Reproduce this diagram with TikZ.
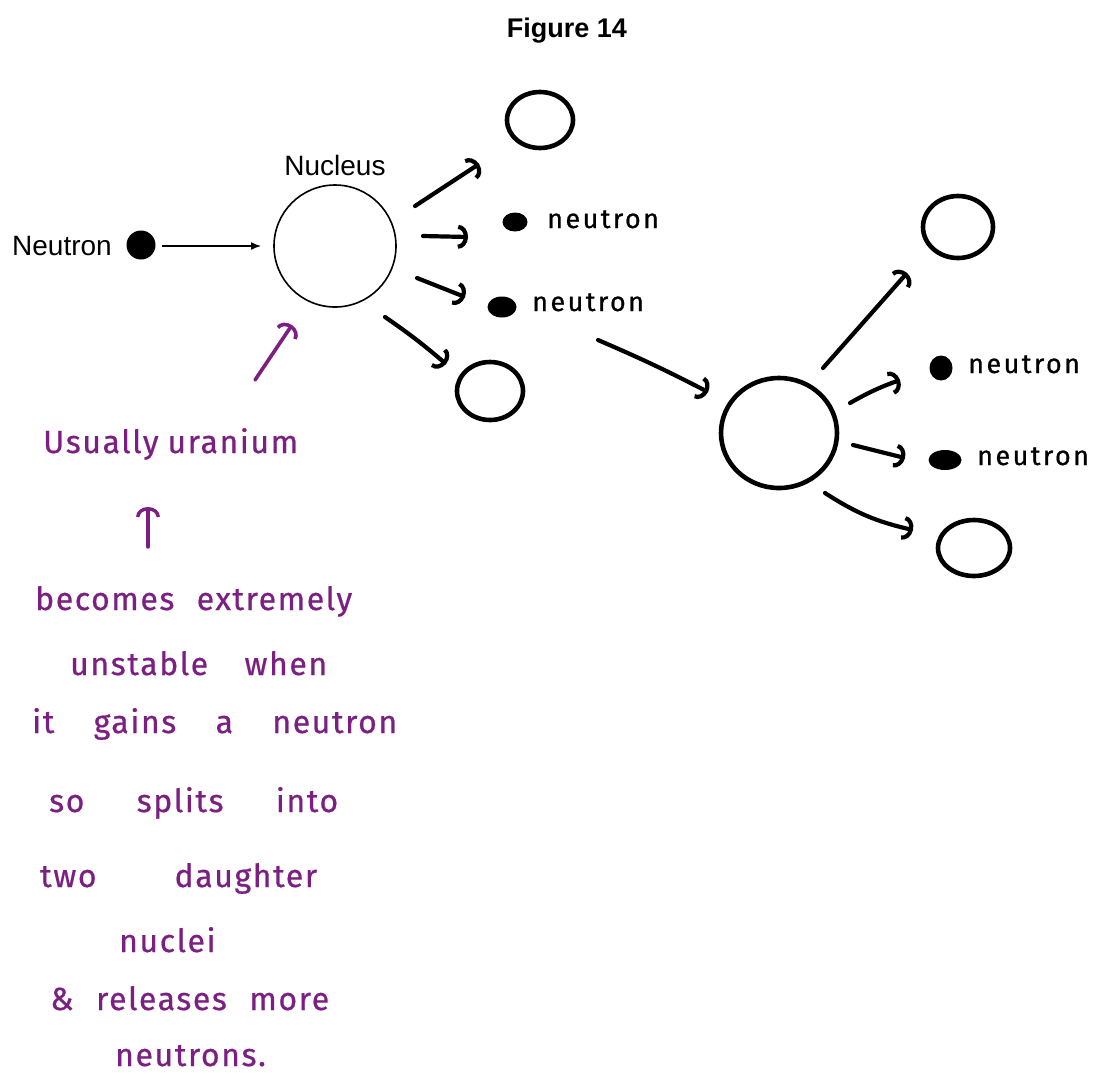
\documentclass[tikz,border=0pt]{standalone}
\usepackage{fontspec}
\setmainfont{Liberation Sans}
\newfontfamily\hand[LetterSpace=5,FakeBold=0.6]{Fira Sans}
\newfontfamily\handb[LetterSpace=9,FakeBold=0.6]{Fira Sans}
\usetikzlibrary{arrows.meta,shapes.geometric}
\definecolor{pen}{RGB}{124,31,131}
\newcommand\handline[2]{\makebox[#1][s]{#2}}
\begin{document}
\begin{tikzpicture}[x=1pt,y=-1pt,
  ink/.style={line width=4.2pt,line cap=round,line join=round},
  harrow/.style={ink,-{Arc Barb[length=10pt,width=24pt]}},
  hcirc/.style={ellipse,draw,line width=4.6pt,inner sep=0pt},
  hdot/.style={ellipse,fill,inner sep=0pt},
  handtxt/.style={font=\handb\fontsize{27}{29}\selectfont,anchor=base west,inner sep=0pt},
  purtxt/.style={text=pen,font=\hand\fontsize{32}{34}\selectfont,anchor=base west,inner sep=0pt},
  print/.style={font=\fontsize{28}{30}\selectfont,inner sep=0pt}]
\useasboundingbox (0,0) rectangle (1099,1077);
\fill[white] (0,0) rectangle (1099,1077);

% title
\node[font=\bfseries\fontsize{27}{29}\selectfont,anchor=base] (title) at (567,37) {Figure 14};

% printed part
\node[print,anchor=base west] (neutronlab) at (12,255) {Neutron};
\node[circle,fill,minimum size=29pt,inner sep=0pt] (n0) at (141,245) {};
\node[circle,draw,line width=1.6pt,minimum size=122pt,inner sep=0pt] (nuc1) at (335,246) {};
\node[print,anchor=base] (nuclab) at (335,175) {Nucleus};
\coordinate (t0s) at (162,246);
\coordinate (t0e) at (261,246);
\draw[line width=1.4pt,-{Latex[length=10pt,width=8pt]}] (t0s) -- (t0e);

% first generation products
\node[hcirc,minimum width=66pt,minimum height=56pt] (c1) at (540,120) {};
\node[hcirc,minimum width=66pt,minimum height=58pt] (c2) at (490,391) {};
\node[hdot,minimum width=25pt,minimum height=19pt] (d1) at (515,222) {};
\node[hdot,minimum width=29pt,minimum height=21pt] (d2) at (502,307) {};
\node[handtxt] (l1) at (547,228) {neutron};
\node[handtxt] (l2) at (532,311) {neutron};

\coordinate (a1s) at (415,206); \coordinate (a1e) at (479,164);
\coordinate (a2s) at (423,236); \coordinate (a2e) at (468,237);
\coordinate (a3s) at (417,278); \coordinate (a3e) at (465,297);
\coordinate (a4s) at (385,317); \coordinate (a4e) at (446,364);
\draw[harrow] (a1s) -- (a1e);
\draw[harrow] (a2s) -- (a2e);
\draw[harrow] (a3s) -- (a3e);
\draw[harrow] (a4s) to[bend left=3] (a4e);

% chain arrow to second nucleus
\coordinate (Ls) at (598,340); \coordinate (Le) at (708,392);
\draw[harrow] (Ls) to[bend left=2] (Le);

% second nucleus
\node[hcirc,minimum width=116pt,minimum height=110pt] (nuc2) at (779,433) {};
\node[hcirc,minimum width=70pt,minimum height=62pt] (c3) at (958,227) {};
\node[hcirc,minimum width=72pt,minimum height=56pt] (c4) at (974,548) {};
\node[hdot,minimum width=23pt,minimum height=25pt] (d3) at (941,368) {};
\node[hdot,minimum width=33pt,minimum height=20pt] (d4) at (945,460) {};
\node[handtxt] (l3) at (968,373) {neutron};
\node[handtxt] (l4) at (977,465) {neutron};

\coordinate (b1s) at (823,368); \coordinate (b1e) at (907,273);
\coordinate (b2s) at (850,403); \coordinate (b2e) at (900,380);
\coordinate (b3s) at (853,445); \coordinate (b3e) at (905,458);
\coordinate (b4s) at (825,493); \coordinate (b4e) at (913,530);
\draw[harrow] (b1s) -- (b1e);
\draw[harrow] (b2s) to[bend left=5] (b2e);
\draw[harrow] (b3s) -- (b3e);
\draw[harrow] (b4s) to[bend right=10] (b4e);

% purple annotations
\coordinate (p1s) at (255,380); \coordinate (p1e) at (292,325);
\draw[harrow,pen,line width=3.6pt] (p1s) -- (p1e);
\node[purtxt] (u1) at (43,453) {\handline{255pt}{Usually uranium}};
\coordinate (p2s) at (148,547); \coordinate (p2e) at (148,507);
\draw[harrow,pen,line width=3.4pt] (p2s) -- (p2e);
\node[purtxt] (u2) at (35,610) {\handline{317pt}{becomes extremely}};
\node[purtxt] (u3) at (70,675) {\handline{257pt}{unstable when}};
\node[purtxt] (u4) at (32,733) {\handline{365pt}{it gains a neutron}};
\node[purtxt] (u5) at (49,812) {\handline{289pt}{so splits into}};
\node[purtxt] (u6) at (40,887) {\handline{277pt}{two daughter}};
\node[purtxt] (u7) at (119,952) {nuclei};
\node[purtxt] (u8) at (50,1010) {\handline{279pt}{\& releases more}};
\node[purtxt] (u9) at (115,1066) {neutrons.};
\end{tikzpicture}
\end{document}
